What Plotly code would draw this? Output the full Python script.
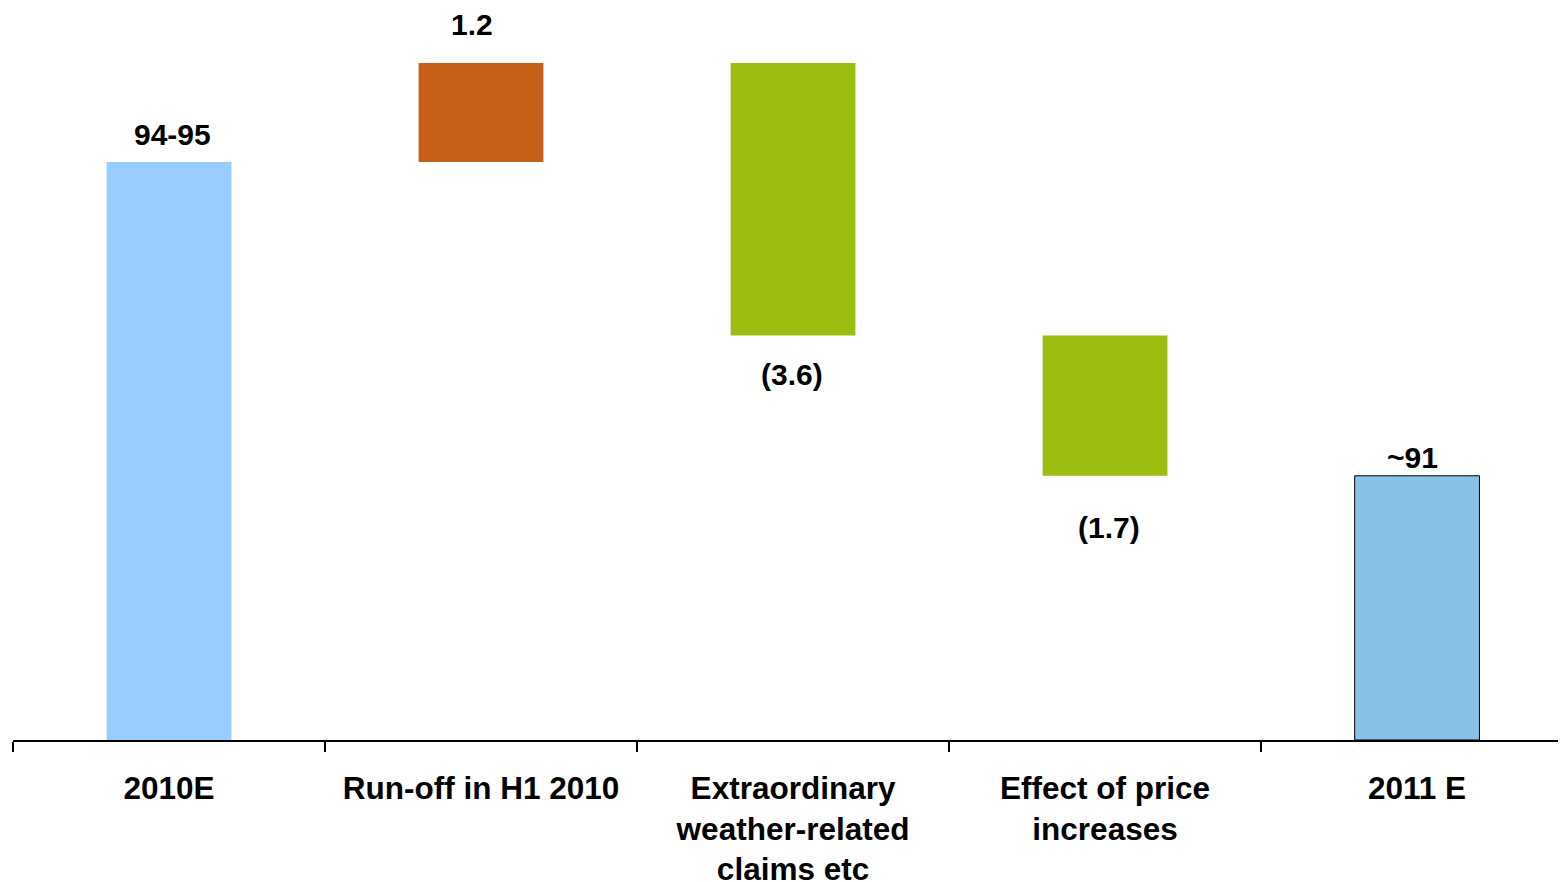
"""Waterfall: 2010E -> 2011 E bridge."""
import plotly.graph_objects as go

categories = ["2010E", "Run-off in H1 2010",
              "Extraordinary<br>weather-related<br>claims etc",
              "Effect of price<br>increases", "2011 E"]
# bar extents (axis starts at 87.5)
bar_bottom = [87.5, 94.5, 92.4, 90.7, 87.5]
bar_top = [94.5, 95.7, 95.7, 92.4, 90.7]
bar_labels = ["94-95", "1.2", "(3.6)", "(1.7)", "~91"]
bar_colors = ["#99CCFF", "#C56016", "#9ABD0F", "#9ABD0F", "#87C1E5"]
line_widths = [0, 0, 0, 0, 1]

FONT = "Arial, Liberation Sans, sans-serif"

fig = go.Figure(go.Bar(
    x=categories,
    y=[t - b for t, b in zip(bar_top, bar_bottom)],
    base=bar_bottom,
    width=0.4,
    marker=dict(color=bar_colors, line=dict(color="black", width=line_widths)),
    hoverinfo="skip",
))

# label placement: (anchor on top or bottom edge, y shift px, x shift px)
label_pos = [("top", 28, 3), ("top", 38, -9), ("bottom", -39, -1),
             ("bottom", -52, 4), ("top", 18, -5)]
for cat, lab, b, t, (edge, ys, xs) in zip(categories, bar_labels, bar_bottom,
                                          bar_top, label_pos):
    fig.add_annotation(
        x=cat, y=t if edge == "top" else b, text=lab, showarrow=False,
        yanchor="middle", yshift=ys, xshift=xs,
        font=dict(family=FONT, size=30, color="black", weight="bold"),
    )

# the page body adds an 8px offset, margins compensate for it
fig.update_layout(
    width=1566, height=882,
    margin=dict(l=5, r=0, t=0, b=150),
    plot_bgcolor="white", paper_bgcolor="white",
    showlegend=False,
    xaxis=dict(
        range=[-0.5, 4.503],
        showline=True, linecolor="black", linewidth=1.5,
        ticks="outside", tickson="boundaries", ticklen=10,
        tickcolor="black", tickwidth=1.5,
        ticklabelstandoff=19,
        showgrid=False, zeroline=False,
        tickfont=dict(family=FONT, size=31.5, color="black", weight="bold"),
    ),
    yaxis=dict(range=[87.5, 96.365], visible=False, showgrid=False,
               zeroline=False),
)

fig.write_html("out.html")
